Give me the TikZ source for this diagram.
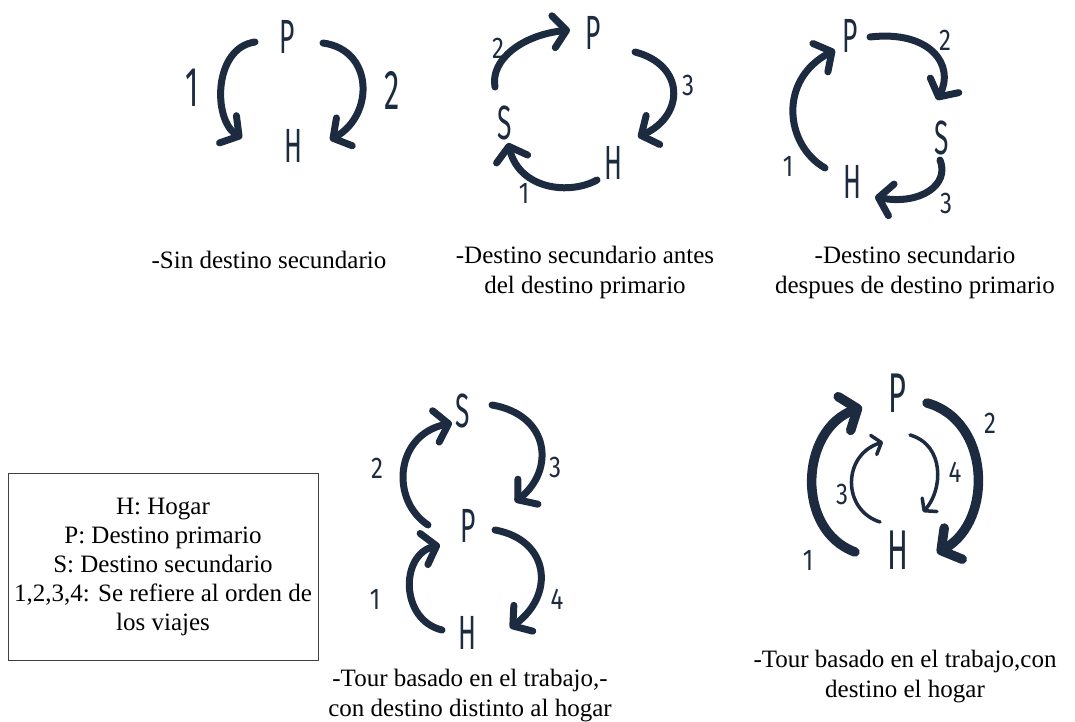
\documentclass[tikz,border=0pt]{standalone}
\usepackage{fontspec}
\setmainfont{Liberation Serif}
\newfontfamily\handfont[FakeStretch=0.55]{Fira Sans}
\newfontfamily\digitfont[FakeStretch=0.8]{Fira Sans}
\usetikzlibrary{arrows.meta}
\definecolor{ink}{HTML}{1C2B40}
\tikzset{
  letter/.style={font=\handfont\fontsize{48}{48}\selectfont, text=ink, inner sep=0pt},
  bigletter/.style={font=\handfont\fontsize{56}{56}\selectfont, text=ink, inner sep=0pt},
  num/.style={font=\digitfont\fontsize{30}{30}\selectfont, text=ink, inner sep=0pt},
  bignum/.style={font=\handfont\fontsize{56}{56}\selectfont, text=ink, inner sep=0pt},
  caption/.style={font=\fontsize{25}{30}\selectfont, align=center, inner sep=0pt},
  trip/.style={draw=ink, line width=7pt, line cap=round,
    -{Straight Barb[length=13pt, width=32pt, round]}},
  thicktrip/.style={draw=ink, line width=9.5pt, line cap=round,
    -{Straight Barb[length=14pt, width=36pt, round]}},
  thintrip/.style={draw=ink, line width=3.5pt, line cap=round,
    -{Straight Barb[length=8pt, width=20pt, round]}},
  legendbox/.style={draw=black!75, line width=1pt, minimum width=310pt,
    minimum height=187pt, font=\fontsize{25}{29}\selectfont, align=center}
}
\begin{document}
\begin{tikzpicture}[x=1pt,y=-1pt]
\useasboundingbox (0,0) rectangle (1075,722);

% --- Sin destino secundario
\node[letter] (P1) at (287,37) {P};
\node[letter] (H1) at (293,146) {H};
\node[bignum] (n11) at (192,88) {1};
\node[bignum] (n12) at (392,90) {2};
\coordinate (a11s) at (255,42);  \coordinate (a11e) at (242,138);
\coordinate (a12s) at (323,43);  \coordinate (a12e) at (330,140);
\draw[trip] (a11s) .. controls (213,48) and (213,120) .. (a11e);
\draw[trip] (a12s) .. controls (374,50) and (374,115) .. (a12e);
\node[caption] (c1) at (269,260) {-Sin destino secundario};

% --- Destino secundario antes del destino primario
\node[letter] (P2) at (593,33) {P};
\node[letter] (S2) at (505,123) {S};
\node[letter] (H2) at (613,163) {H};
\node[num] (n22) at (498,48) {2};
\node[num] (n23) at (688,85) {3};
\node[num] (n21) at (524,193) {1};
\coordinate (a22s) at (495,87);  \coordinate (a22e) at (570,30);
\coordinate (a23s) at (635,52);  \coordinate (a23e) at (638,137);
\coordinate (a21s) at (597,180); \coordinate (a21e) at (508,143);
\draw[trip] (a21s) .. controls (570,195) and (520,190) .. (a21e);
\draw[trip] (a22s) .. controls (490,60) and (522,35) .. (a22e);
\draw[trip] (a23s) .. controls (685,65) and (685,115) .. (a23e);
\node[caption] (c2) at (585,272) {-Destino secundario antes\\del destino primario};

% --- Destino secundario despues de destino primario
\node[letter] (P3) at (850,36) {P};
\node[letter] (S3) at (942,138) {S};
\node[letter] (H3) at (852,182) {H};
\node[num] (n32) at (945,40) {2};
\node[num] (n31) at (788,166) {1};
\node[num] (n33) at (946,203) {3};
\coordinate (a31s) at (825,168); \coordinate (a31e) at (835,50);
\coordinate (a32s) at (870,37);  \coordinate (a32e) at (937,100);
\coordinate (a33s) at (940,160); \coordinate (a33e) at (875,197);
\draw[trip] (a31s) .. controls (785,145) and (778,80) .. (a31e);
\draw[trip] (a32s) .. controls (930,30) and (955,65) .. (a32e);
\draw[trip] (a33s) .. controls (950,185) and (920,205) .. (a33e);
\node[caption] (c3) at (915,272) {-Destino secundario\\despues de destino primario};

% --- Tour basado en el trabajo, con destino distinto al hogar
\node[letter] (S4) at (463,411) {S};
\node[letter] (P4) at (468,526) {P};
\node[letter] (H4) at (467,633) {H};
\node[num] (n42) at (377,468) {2};
\node[num] (n43) at (555,467) {3};
\node[num] (n41) at (375,599) {1};
\node[num] (n44) at (557,599) {4};
\coordinate (a41s) at (442,630); \coordinate (a41e) at (440,545);
\coordinate (a42s) at (428,525); \coordinate (a42e) at (452,423);
\coordinate (a43s) at (492,405); \coordinate (a43e) at (515,502);
\coordinate (a44s) at (495,530); \coordinate (a44e) at (510,628);
\draw[trip] (a41s) .. controls (400,620) and (400,555) .. (a41e);
\draw[trip] (a42s) .. controls (390,500) and (395,435) .. (a42e);
\draw[trip] (a43s) .. controls (550,415) and (555,470) .. (a43e);
\draw[trip] (a44s) .. controls (550,540) and (555,595) .. (a44e);
\node[caption] (c4) at (470,696) {-Tour basado en el trabajo,-\\con destino distinto al hogar};

% --- Tour basado en el trabajo, con destino el hogar
\node[bigletter] (P5) at (897,393) {P};
\node[bigletter] (H5) at (898,550) {H};
\node[num] (n52) at (990,423) {2};
\node[num] (n54) at (955,472) {4};
\node[num] (n53) at (842,494) {3};
\node[num] (n51) at (808,560) {1};
\coordinate (a51s) at (855,552); \coordinate (a51e) at (862,407);
\coordinate (a52s) at (927,403); \coordinate (a52e) at (937,553);
\coordinate (a53s) at (880,522); \coordinate (a53e) at (883,442);
\coordinate (a54s) at (910,435); \coordinate (a54e) at (923,512);
\draw[thicktrip] (a51s) .. controls (795,530) and (800,430) .. (a51e);
\draw[thicktrip] (a52s) .. controls (990,420) and (994,520) .. (a52e);
\draw[thintrip] (a53s) .. controls (842,510) and (842,455) .. (a53e);
\draw[thintrip] (a54s) .. controls (945,445) and (943,490) .. (a54e);
\node[caption] (c5) at (905,677) {-Tour basado en el trabajo,con\\destino el hogar};

% --- Legend
\node[legendbox] (legend) at (163,566.5) {H: Hogar\\P: Destino primario\\S: Destino secundario\\1,2,3,4: Se refiere al orden de\\los viajes};
\end{tikzpicture}
\end{document}
